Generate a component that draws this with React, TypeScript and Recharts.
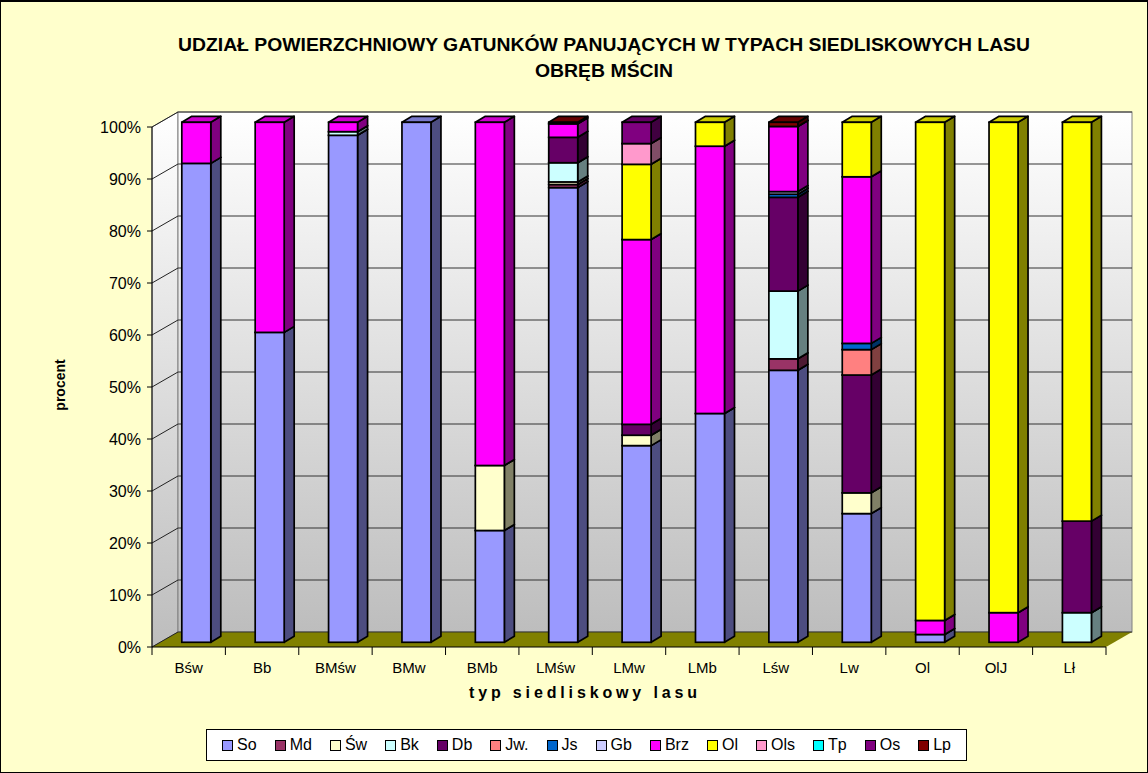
import React from 'react'
import { BarChart, Bar, XAxis, YAxis, CartesianGrid } from 'recharts'

// typy siedliskowe
const categories = ['Bśw', 'Bb', 'BMśw', 'BMw', 'BMb', 'LMśw', 'LMw', 'LMb', 'Lśw', 'Lw', 'Ol', 'OlJ', 'Lł']

// udział gatunków [%]
const So = [92.1, 59.6, 97.5, 100, 21.5, 87.7, 37.9, 44.0, 52.2, 24.8, 1.5, 0, 0]
const Md = [0, 0, 0, 0, 0, 0.6, 0, 0, 2.2, 0, 0, 0, 0]
const Sw = [0, 0, 0, 0, 12.5, 0.5, 2.0, 0, 0, 4.0, 0, 0, 0]
const Bk = [0, 0, 0.7, 0, 0, 3.7, 0, 0, 13.0, 0, 0, 0, 5.7]
const Db = [0, 0, 0, 0, 0, 4.9, 2.1, 0, 18.0, 22.7, 0, 0, 17.6]
const Jw = [0, 0, 0, 0, 0, 0, 0, 0, 0, 4.9, 0, 0, 0]
const Js = [0, 0, 0, 0, 0, 0, 0, 0, 0.6, 1.2, 0, 0, 0]
const Gb = [0, 0, 0, 0, 0, 0, 0, 0, 0.5, 0, 0, 0, 0]
const Brz = [7.9, 40.4, 1.8, 0, 66.0, 2.6, 35.6, 51.4, 12.5, 32.1, 2.7, 5.7, 0]
const Ol = [0, 0, 0, 0, 0, 0, 14.5, 4.6, 0, 10.5, 95.8, 94.3, 76.7]
const Ols = [0, 0, 0, 0, 0, 0, 4.0, 0, 0, 0, 0, 0, 0]
const Tp = [0, 0, 0, 0, 0, 0, 0, 0, 0, 0, 0, 0, 0]
const Os = [0, 0, 0, 0, 0, 0, 4.1, 0, 0, 0, 0, 0, 0]
const Lp = [0, 0, 0, 0, 0, 0.3, 0, 0, 0.8, 0, 0, 0, 0]

const seriesNames = ['So', 'Md', 'Św', 'Bk', 'Db', 'Jw.', 'Js', 'Gb', 'Brz', 'Ol', 'Ols', 'Tp', 'Os', 'Lp']
const seriesValues = [So, Md, Sw, Bk, Db, Jw, Js, Gb, Brz, Ol, Ols, Tp, Os, Lp]
const seriesColors = ['#9999FF', '#993366', '#FFFFCC', '#CCFFFF', '#660066', '#FF8080', '#0066CC',
  '#CCCCFF', '#FF00FF', '#FFFF00', '#FF99CC', '#00FFFF', '#800080', '#800000']

const yTicks = [0, 0.1, 0.2, 0.3, 0.4, 0.5, 0.6, 0.7, 0.8, 0.9, 1]

const W = 1148
const H = 773
const PLOT = { left: 152, top: 127, right: 1106, bottom: 647 }
const WALL_DX = 26, WALL_DY = -15 // glebokosc "3D"
const BAR_OX = 7.8, BAR_OY = -4.7
const BAR_DX = 10, BAR_DY = -6
const FONT = '"Liberation Sans", Arial, sans-serif'

const data = categories.map((c, i) => {
  const row: Record<string, string | number> = { name: c }
  seriesNames.forEach((s, k) => { row[s] = seriesValues[k][i] })
  return row
})

function shade(hex: string, f: number): string {
  const n = parseInt(hex.slice(1), 16)
  const r = Math.round(((n >> 16) & 255) * f)
  const g = Math.round(((n >> 8) & 255) * f)
  const b = Math.round((n & 255) * f)
  return `rgb(${r},${g},${b})`
}

// slupek z bokiem i wierzchem
function Bar3D(props: any) {
  const { x, y, width, height, fill } = props
  if (!height || height < 0.05) return null
  const X = x + BAR_OX, Y = y + BAR_OY
  const R = X + width
  const side = `M${R},${Y} L${R + BAR_DX},${Y + BAR_DY} L${R + BAR_DX},${Y + height + BAR_DY} L${R},${Y + height} Z`
  const top = `M${X},${Y} L${X + BAR_DX},${Y + BAR_DY} L${R + BAR_DX},${Y + BAR_DY} L${R},${Y} Z`
  return (
    <g>
      <path d={side} fill={shade(fill, 0.5)} stroke="#000" strokeWidth={1.7} strokeLinejoin="round" />
      <path d={top} fill={shade(fill, 0.8)} stroke="#000" strokeWidth={1.7} strokeLinejoin="round" />
      <rect x={X} y={Y} width={width} height={height} fill={fill} stroke="#000" strokeWidth={1.7} />
    </g>
  )
}

function GridLine(props: any) {
  const { x1, x2, y1 } = props
  return (
    <g key={props.key}>
      <line x1={x1} y1={y1} x2={x1 + WALL_DX} y2={y1 + WALL_DY} stroke="#222" strokeWidth={1} />
      <line x1={x1 + WALL_DX} y1={y1 + WALL_DY} x2={x2 + WALL_DX} y2={y1 + WALL_DY} stroke="#333" strokeWidth={1} />
    </g>
  )
}

function XTick(props: any) {
  const { x, payload, index } = props
  const band = (PLOT.right - PLOT.left) / categories.length
  return (
    <g>
      <line x1={x - band / 2} y1={PLOT.bottom} x2={x - band / 2} y2={PLOT.bottom + 8} stroke="#000" />
      {index === categories.length - 1 && (
        <line x1={x + band / 2} y1={PLOT.bottom} x2={x + band / 2} y2={PLOT.bottom + 8} stroke="#000" />
      )}
      <text x={x} y={PLOT.bottom + 26} textAnchor="middle" fontSize={15} fill="#000" fontFamily={FONT}>
        {payload.value}
      </text>
    </g>
  )
}

function Backdrop() {
  const { left, top, right, bottom } = PLOT
  const bl = left + WALL_DX, bt = top + WALL_DY, br = right + WALL_DX, bb = bottom + WALL_DY
  return (
    <svg width={W} height={H} style={{ position: 'absolute', left: 0, top: 0 }}>
      <defs>
        <linearGradient id="wall" x1="0" y1="0" x2="0" y2="1">
          <stop offset="0" stopColor="#FFFFFF" />
          <stop offset="1" stopColor="#BDBDBD" />
        </linearGradient>
      </defs>
      <text x={604} y={51} textAnchor="middle" fontSize={18} fontWeight="bold" fontFamily={FONT}
        textLength={852} lengthAdjust="spacingAndGlyphs">
        UDZIAŁ POWIERZCHNIOWY GATUNKÓW PANUJĄCYCH W TYPACH SIEDLISKOWYCH LASU
      </text>
      <text x={604} y={77} textAnchor="middle" fontSize={18} fontWeight="bold" fontFamily={FONT}
        textLength={138} lengthAdjust="spacingAndGlyphs">
        OBRĘB MŚCIN
      </text>
      <polygon points={`${left},${top} ${bl},${bt} ${bl},${bb} ${left},${bottom}`} fill="url(#wall)" stroke="#808080" />
      <rect x={bl} y={bt} width={br - bl} height={bb - bt} fill="url(#wall)" stroke="#808080" />
      <polygon points={`${left},${bottom} ${right},${bottom} ${br},${bb} ${bl},${bb}`} fill="#808000" />
      <text x={583} y={698} textAnchor="middle" fontSize={16} fontWeight="bold" fontFamily={FONT}
        textLength={228} lengthAdjust="spacing">
        typ siedliskowy lasu
      </text>
      <text x={0} y={0} transform="translate(65,385) rotate(-90)" textAnchor="middle" fontSize={14}
        fontWeight="bold" fontFamily={FONT}>
        procent
      </text>
    </svg>
  )
}

function LegendBox() {
  return (
    <div style={{
      position: 'absolute', left: 205, top: 727, width: 761, height: 32, boxSizing: 'border-box',
      border: '1px solid #000', background: '#fff', display: 'flex', alignItems: 'center',
      justifyContent: 'space-around', padding: '0 6px', fontFamily: FONT, fontSize: 16,
    }}>
      {seriesNames.map((s, k) => (
        <span key={s} style={{ display: 'flex', alignItems: 'center', gap: 4 }}>
          <span style={{ width: 9, height: 9, background: seriesColors[k], border: '1px solid #000', display: 'inline-block' }} />
          {s}
        </span>
      ))}
    </div>
  )
}

export default function App() {
  return (
    <div style={{
      position: 'absolute', left: 0, top: 0, width: W, height: H, background: '#FFFFCC',
      boxSizing: 'border-box', border: '1px solid #000', borderTopWidth: 2, fontFamily: FONT, overflow: 'hidden',
    }}>
      <div style={{ position: 'absolute', left: -1, top: -2 }}>
        <Backdrop />
        <div style={{ position: 'absolute', left: 0, top: 0 }}>
          <BarChart width={W} height={H} data={data} stackOffset="expand" barSize={29}
            margin={{ top: PLOT.top, right: W - PLOT.right, bottom: H - PLOT.bottom - 30, left: 0 }}>
            <CartesianGrid vertical={false} horizontal={GridLine} />
            <XAxis dataKey="name" interval={0} height={30} tickLine={false} tick={XTick}
              axisLine={{ stroke: '#000' }} />
            <YAxis width={PLOT.left} domain={[0, 1]} ticks={yTicks} tickSize={5} tickMargin={6}
              tickFormatter={(v: number) => `${Math.round(v * 100)}%`}
              tick={{ fontSize: 16, fill: '#000' }} axisLine={{ stroke: '#000' }} tickLine={{ stroke: '#000' }} />
            {seriesNames.map((s, k) => (
              <Bar key={s} dataKey={s} stackId="a" fill={seriesColors[k]} shape={Bar3D} isAnimationActive={false} />
            ))}
          </BarChart>
        </div>
      </div>
      <LegendBox />
    </div>
  )
}
